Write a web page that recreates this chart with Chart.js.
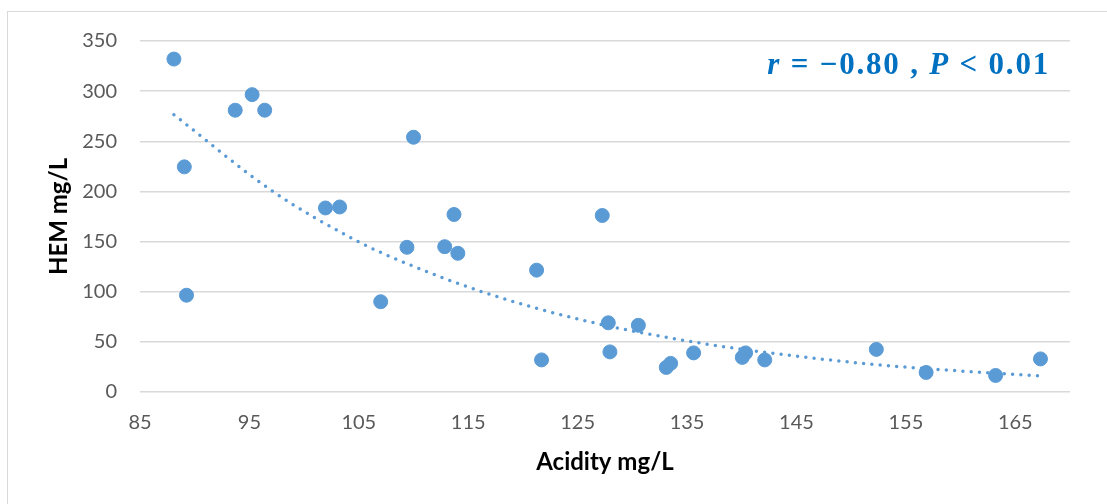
<!DOCTYPE html>
<html>
<head>
<meta charset="utf-8">
<script src="https://cdn.jsdelivr.net/npm/chart.js@4.4.1/dist/chart.umd.min.js"></script>
<style>
    body { margin: 0; background: #ffffff; }
    #wrap { width: 1107px; height: 504px; position: relative; }
</style>
</head>
<body>
<div id="wrap"><canvas id="chart"></canvas></div>
<script>
/* ------------------------------- Data -------------------------------*/

var acidity = [88.1, 89.05, 89.25, 93.7, 95.25, 96.4, 101.95, 103.25, 107.0, 109.4,
               110.0, 112.85, 113.7, 114.05, 121.25, 121.7, 127.25, 127.8, 127.95, 130.55,
               133.1, 133.5, 135.6, 140.05, 140.35, 142.1, 152.3, 156.85, 163.2, 167.3];
var hem = [332, 224.5, 96.5, 281, 296.5, 281, 183.5, 184.5, 90, 144.3,
           254, 144.9, 177, 138.3, 121.5, 32, 176, 69, 40, 66.5,
           24.5, 28.5, 39, 34.5, 39, 32, 42.5, 19.5, 16.5, 33];

// dotted trend line
var trendX = [88.1, 97.05, 104.85, 108.95, 116.7, 125.4, 135.8, 147.8, 154.5, 167.3];
var trendY = [276.5, 200.7, 150.5, 130, 98.4, 71.8, 49.5, 32.2, 25.2, 16];

var xTicks = [85, 95, 105, 115, 125, 135, 145, 155, 165];
var yTicks = [0, 50, 100, 150, 200, 250, 300, 350];

var xTitle = "Acidity mg/L";
var yTitle = "HEM mg/L";

/* ------------------------------- Helpers -------------------------------*/

function toPoints(xs, ys) {
    var pts = [];
    for (let i = 0; i < xs.length; i++)
        pts.push({ x: xs[i], y: ys[i] });
    return pts;
}

var extras = {                                      // рамка, підписи осей та текст r / P
    id: 'extras',
    afterDraw: function (chart) {
        var ctx = chart.ctx;
        var area = chart.chartArea;
        ctx.save();

        ctx.strokeStyle = '#d9d9d9';
        ctx.lineWidth = 1;
        ctx.strokeRect(7.5, 11.5, 1300, 700);

        ctx.fillStyle = '#000000';
        ctx.font = 'bold 24px Lato';
        ctx.textAlign = 'center';
        ctx.textBaseline = 'alphabetic';
        ctx.fillText(xTitle, (area.left + area.right) / 2, 470);

        ctx.save();
        ctx.translate(67, (area.top + area.bottom) / 2);
        ctx.rotate(-Math.PI / 2);
        ctx.fillText(yTitle, 0, 0);
        ctx.restore();

        var parts = [
            { t: 'r', f: 'italic bold 31px "Liberation Serif"' },
            { t: ' = \u22120.80 , ', f: 'bold 31px "Liberation Serif"' },
            { t: 'P', f: 'italic bold 31px "Liberation Serif"' },
            { t: ' < 0.01', f: 'bold 31px "Liberation Serif"' }
        ];
        ctx.letterSpacing = '1.8px';
        var total = 0;
        parts.forEach(p => { ctx.font = p.f; p.w = ctx.measureText(p.t).width; total += p.w; });
        var x = 1050 - total;
        ctx.fillStyle = '#0070c0';
        ctx.textAlign = 'left';
        parts.forEach(p => { ctx.font = p.f; ctx.fillText(p.t, x, 74); x += p.w; });

        ctx.restore();
    }
};

/* ------------------------------- Chart -------------------------------*/

var ctx = document.getElementById('chart').getContext('2d');
new Chart(ctx, {
    type: 'scatter',
    data: {
        datasets: [{
            data: toPoints(acidity, hem),
            backgroundColor: '#5b9bd5',
            borderColor: '#5b9bd5',
            borderWidth: 1,
            pointRadius: 7,
            order: 1
        }, {
            data: toPoints(trendX, trendY),
            showLine: true,
            pointRadius: 0,
            borderColor: '#5b9bd5',
            borderWidth: 3.5,
            borderDash: [0, 8.3],
            borderCapStyle: 'round',
            cubicInterpolationMode: 'monotone',
            order: 0
        }]
    },
    options: {
        responsive: true,
        maintainAspectRatio: false,
        animation: false,
        layout: { padding: { top: 41, right: 37, left: 0, bottom: 0 } },
        plugins: {
            legend: { display: false },
            tooltip: { enabled: false }
        },
        scales: {
            x: {
                type: 'linear',
                min: 85,
                max: 170,
                afterBuildTicks: function (axis) { axis.ticks = xTicks.map(v => ({ value: v })); },
                afterFit: function (axis) { axis.height = 112; },
                grid: { display: false },
                border: { display: false },
                ticks: { font: { family: 'Lato', size: 20 }, color: '#595959', padding: 11, maxRotation: 0 }
            },
            y: {
                min: 0,
                max: 350,
                afterBuildTicks: function (axis) { axis.ticks = yTicks.map(v => ({ value: v })); },
                afterFit: function (axis) { axis.width = 140; },
                grid: { color: '#d9d9d9', lineWidth: 1.5, drawTicks: false },
                border: { display: false },
                ticks: { font: { family: 'Lato', size: 20 }, color: '#595959', padding: 23 }
            }
        }
    },
    plugins: [extras]
});
</script>
</body>
</html>
